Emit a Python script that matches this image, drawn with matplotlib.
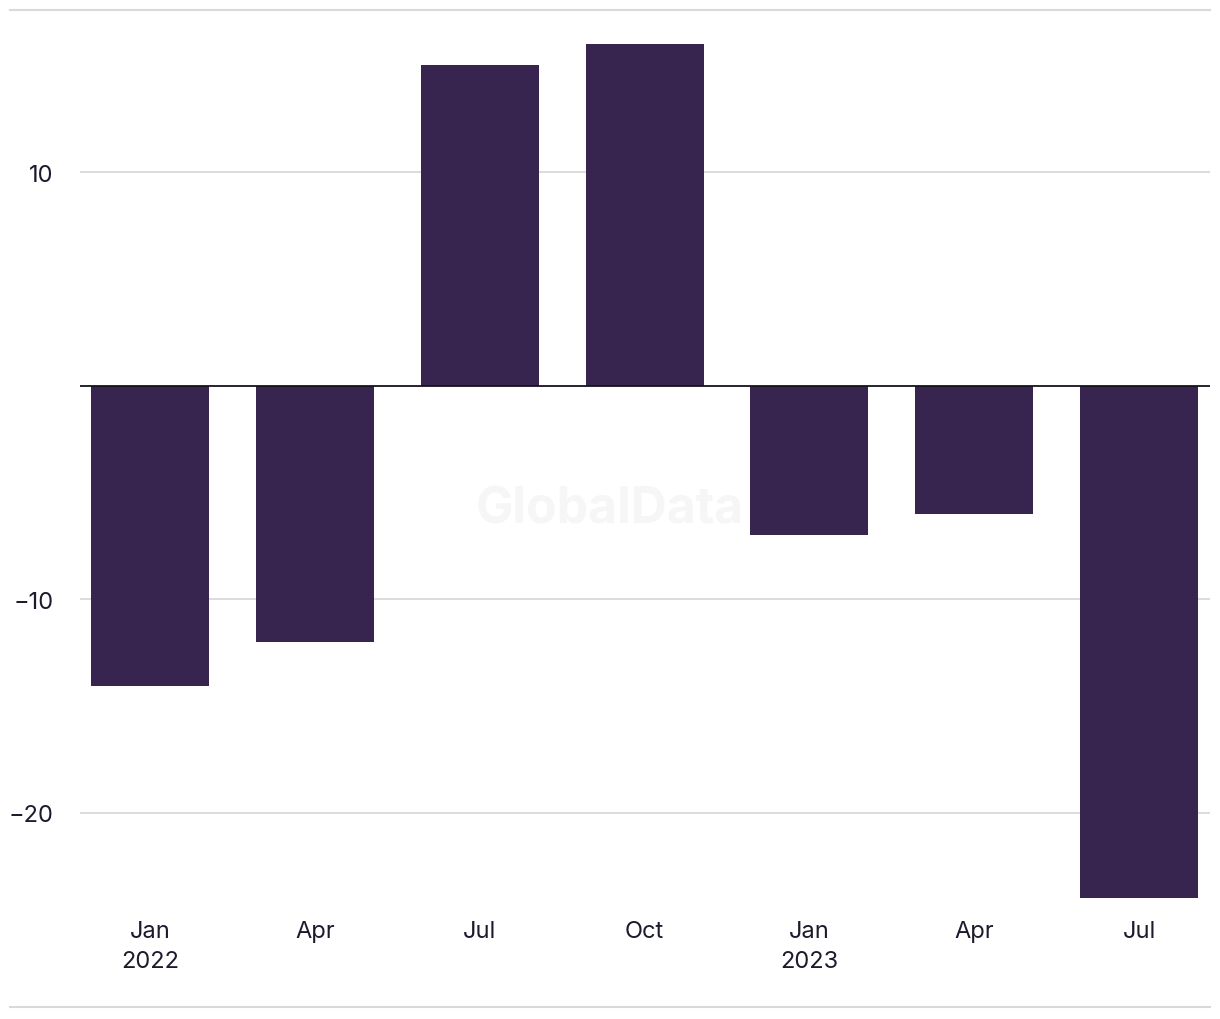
import matplotlib
matplotlib.use("Agg")
import matplotlib.pyplot as plt
from matplotlib.lines import Line2D

# Quarterly values
quarters = ["Jan\n2022", "Apr", "Jul", "Oct", "Jan\n2023", "Apr", "Jul"]
values = [-14.05, -12.0, 15.0, 16.0, -7.0, -6.0, -24.0]
yticks = [-20, -10, 10]
ytick_labels = ["\u221220", "\u221210", "10"]

barColor = "#37254f"
textColor = "#1c1b2e"
gridColor = "#d9d9d9"

plt.rcParams["font.family"] = ["Inter", "DejaVu Sans"]

fig = plt.figure(figsize=(12.2, 10.2), dpi=100)
W, H = 1220.0, 1020.0
ax = fig.add_axes([80 / W, (H - 902) / H, 1130 / W, (902 - 13) / H])

x = list(range(len(values)))
ax.bar(x, values, width=0.716, color=barColor, zorder=2)

#Axis limits
ax.set_xlim(-0.425, 6.43)
ax.set_ylim(-24.12, 17.5)

#Grid and zero line
ax.set_yticks(yticks)
ax.set_yticklabels(ytick_labels)
ax.yaxis.grid(True, color=gridColor, lw=1.3, zorder=0)
ax.axhline(0, color="#15141f", lw=1.3, zorder=3)

ax.set_xticks(x)
ax.set_xticklabels(quarters, linespacing=1.5)
ax.tick_params(axis="both", length=0, labelsize=17, colors=textColor)
ax.tick_params(axis="x", pad=13.5)
ax.tick_params(axis="y", pad=19)

for s in ax.spines.values():
    s.set_visible(False)

#Frame lines at top and bottom of the figure
fig.add_artist(Line2D([10 / W, 1210 / W], [(H - 11) / H] * 2, color=gridColor, lw=1.5))
fig.add_artist(Line2D([10 / W, 1210 / W], [(H - 1008) / H] * 2, color=gridColor, lw=1.5))

#Watermark
ax.text(0.469, 0.441, "GlobalData", transform=ax.transAxes, ha="center", va="center",
        fontsize=36, fontweight="bold", color="#f6f6f6", zorder=1)

fig.savefig("out.png", dpi=100)
